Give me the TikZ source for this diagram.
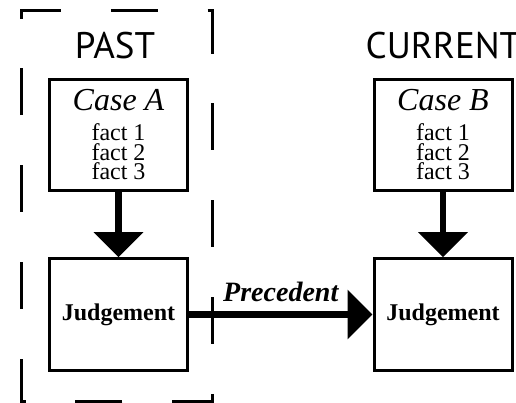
\documentclass[tikz,border=0pt]{standalone}
\usepackage{fontspec}
\setmainfont{Liberation Serif}
\newfontfamily\labelfont{PT Sans}
\usetikzlibrary{arrows.meta}

\tikzset{
    casebox/.style={draw, line width=3pt, minimum width=138pt, minimum height=111.5pt,
        inner sep=0pt, align=center, font=\fontsize{24}{19.5}\selectfont},
    judgebox/.style={casebox, font=\fontsize{24}{24}\selectfont\bfseries},
    bigarrow/.style={line width=6.5pt, -{Triangle[width=48pt,length=25pt]}},
    timelabel/.style={font=\labelfont\fontsize{37}{37}\selectfont, anchor=base, inner sep=0pt}
}

\begin{document}
\begin{tikzpicture}[x=1pt, y=-1pt]

            \useasboundingbox (0,0) rectangle (516,403);

            \node[timelabel] (past) at (115,59) {PAST};
            \node[timelabel] (current) at (443,59) {CURRENT};

            \node[casebox] (caseA) at (118.5,135) {{\fontsize{32}{32}\selectfont\itshape Case A}\\[10.5pt]fact 1\\fact 2\\fact 3};
            \node[casebox] (caseB) at (443,135) {{\fontsize{32}{32}\selectfont\itshape Case B}\\[10.5pt]fact 1\\fact 2\\fact 3};
            \node[judgebox] (judgeA) at (118.5,314.5) {Judgement};
            \node[judgebox] (judgeB) at (443,314.5) {Judgement};

            \draw[bigarrow] (caseA) -- (judgeA);
            \draw[bigarrow] (caseB) -- (judgeB);
            \draw[bigarrow] (judgeA) -- node[above=6.5pt, font=\fontsize{28}{28}\selectfont\bfseries\itshape] (prec) {Precedent} (judgeB);

            \draw[line width=3pt, dash pattern=on 47pt off 49.8pt] (21,18) -- (21,11) -- (212,11) -- (212,401) -- (21,401) -- cycle;
        \end{tikzpicture}
\end{document}
